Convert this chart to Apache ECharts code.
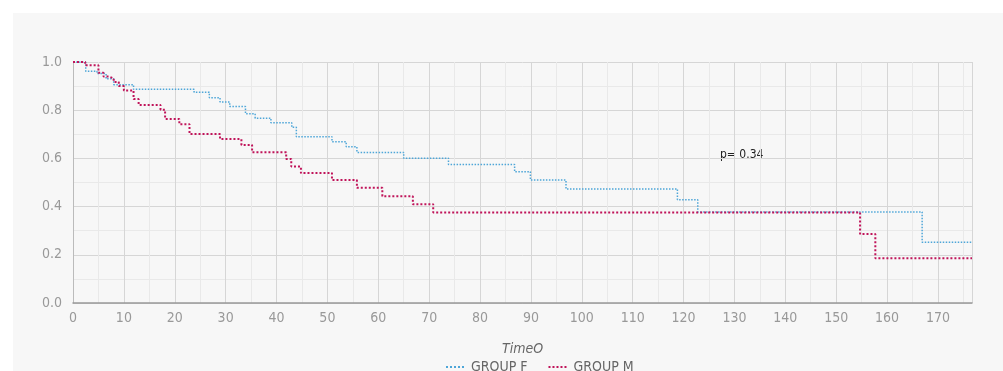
<!DOCTYPE html>
<html>
<head>
<meta charset="utf-8">
<script src="https://cdn.jsdelivr.net/npm/echarts@6/dist/echarts.min.js"></script>
<style>
html, body { margin: 0; padding: 0; background: #ffffff; }
#panel { position: absolute; left: 13px; top: 13px; width: 990px; height: 358px; background: #f7f7f7; }
#km_chart { position: absolute; left: 0; top: 0; width: 1003px; height: 371px; }
</style>
</head>
<body>
<div id="panel"></div>
<div id="km_chart"></div>
<script>
// Kaplan-Meier estimates
var fTimes = [0, 2.5, 4.7, 6.5, 8.0, 11.9, 23.8, 26.8, 28.9, 30.8, 33.9, 35.8, 38.9, 43.0, 43.9, 50.9, 53.7, 55.8, 65.0, 73.8, 86.8, 89.9, 96.9, 118.8, 122.8, 166.9];
var fSurv  = [1.0, 0.962, 0.952, 0.930, 0.906, 0.887, 0.875, 0.852, 0.834, 0.815, 0.785, 0.767, 0.748, 0.729, 0.690, 0.669, 0.648, 0.625, 0.601, 0.575, 0.545, 0.510, 0.473, 0.428, 0.378, 0.252];
var mTimes = [0, 2.4, 5.0, 6.0, 7.0, 8.0, 9.0, 10.0, 11.9, 12.9, 17.2, 18.1, 20.9, 22.9, 28.9, 33.1, 35.2, 41.9, 42.9, 44.8, 50.9, 55.8, 60.8, 66.8, 70.8, 154.7, 157.7];
var mSurv  = [1.0, 0.986, 0.955, 0.940, 0.932, 0.917, 0.900, 0.882, 0.846, 0.822, 0.802, 0.764, 0.742, 0.701, 0.680, 0.656, 0.626, 0.598, 0.566, 0.539, 0.510, 0.478, 0.443, 0.410, 0.376, 0.286, 0.186];
var lastTime = 176.7;
var seriesNames = ['GROUP F', 'GROUP M'];
var pText = 'p= 0.34';

var font = '"DejaVu Sans Condensed", "Liberation Sans Narrow", "Liberation Sans", sans-serif';
var km_chart = echarts.init(document.getElementById('km_chart'));

// turn event times + survival into step points
function stepData(times, surv, end) {
	var out = [[times[0], surv[0]]];
	for (var i = 1; i < times.length; i++) {
		out.push([times[i], surv[i - 1]]);
		out.push([times[i], surv[i]]);
	}
	out.push([end, surv[surv.length - 1]]);
	return out;
}

var option = {
	backgroundColor: 'transparent',
	animation: false,
	grid: {
		left: 73,
		right: 31,
		top: 62,
		bottom: 68
	},
	legend: {
		data: seriesNames,
		left: 440,
		top: 355,
		itemWidth: 20,
		itemHeight: 8,
		itemGap: 20,
		itemStyle: { opacity: 0 },
		textStyle: { fontFamily: font, fontSize: 14, color: '#666' }
	},
	xAxis: {
		type: 'value',
		min: 0,
		max: lastTime,
		interval: 10,
		name: 'TimeO',
		nameLocation: 'middle',
		nameGap: 39,
		nameTextStyle: { fontFamily: font, fontSize: 14, fontStyle: 'italic', color: '#666' },
		axisLine: { show: true, lineStyle: { color: '#999', width: 1.5 } },
		axisTick: { show: false },
		minorTick: { show: false, splitNumber: 2 },
		axisLabel: { fontFamily: font, fontSize: 14, color: '#999', margin: 8, showMaxLabel: false },
		splitLine: { show: true, lineStyle: { color: '#d6d6d6' } },
		minorSplitLine: { show: true, lineStyle: { color: '#e9e9e9' } }
	},
	yAxis: {
		type: 'value',
		min: 0,
		max: 1,
		interval: 0.2,
		axisLine: { show: true, lineStyle: { color: '#bbb', width: 1 } },
		axisTick: { show: false },
		minorTick: { show: false, splitNumber: 2 },
		axisLabel: {
			fontFamily: font, fontSize: 14, color: '#999', margin: 11,
			formatter: function (v) { return v.toFixed(1); }
		},
		splitLine: { show: true, lineStyle: { color: '#d6d6d6' } },
		minorSplitLine: { show: true, lineStyle: { color: '#e9e9e9' } }
	},
	graphic: [
		{
			type: 'text',
			left: 720,
			top: 149,
			style: { text: pText, font: '12px ' + font, fill: '#222' }
		}
	],
	series: [
		{
			name: seriesNames[0],
			type: 'line',
			symbol: 'none',
			data: stepData(fTimes, fSurv, lastTime),
			itemStyle: { color: '#4ea6d8' },
			lineStyle: { color: '#4ea6d8', width: 1.5, type: 'dotted' }
		},
		{
			name: seriesNames[1],
			type: 'line',
			symbol: 'none',
			data: stepData(mTimes, mSurv, lastTime),
			itemStyle: { color: '#c0145a' },
			lineStyle: { color: '#c0145a', width: 2, type: 'dotted' }
		}
	]
};
km_chart.setOption(option);
</script>
</body>
</html>
